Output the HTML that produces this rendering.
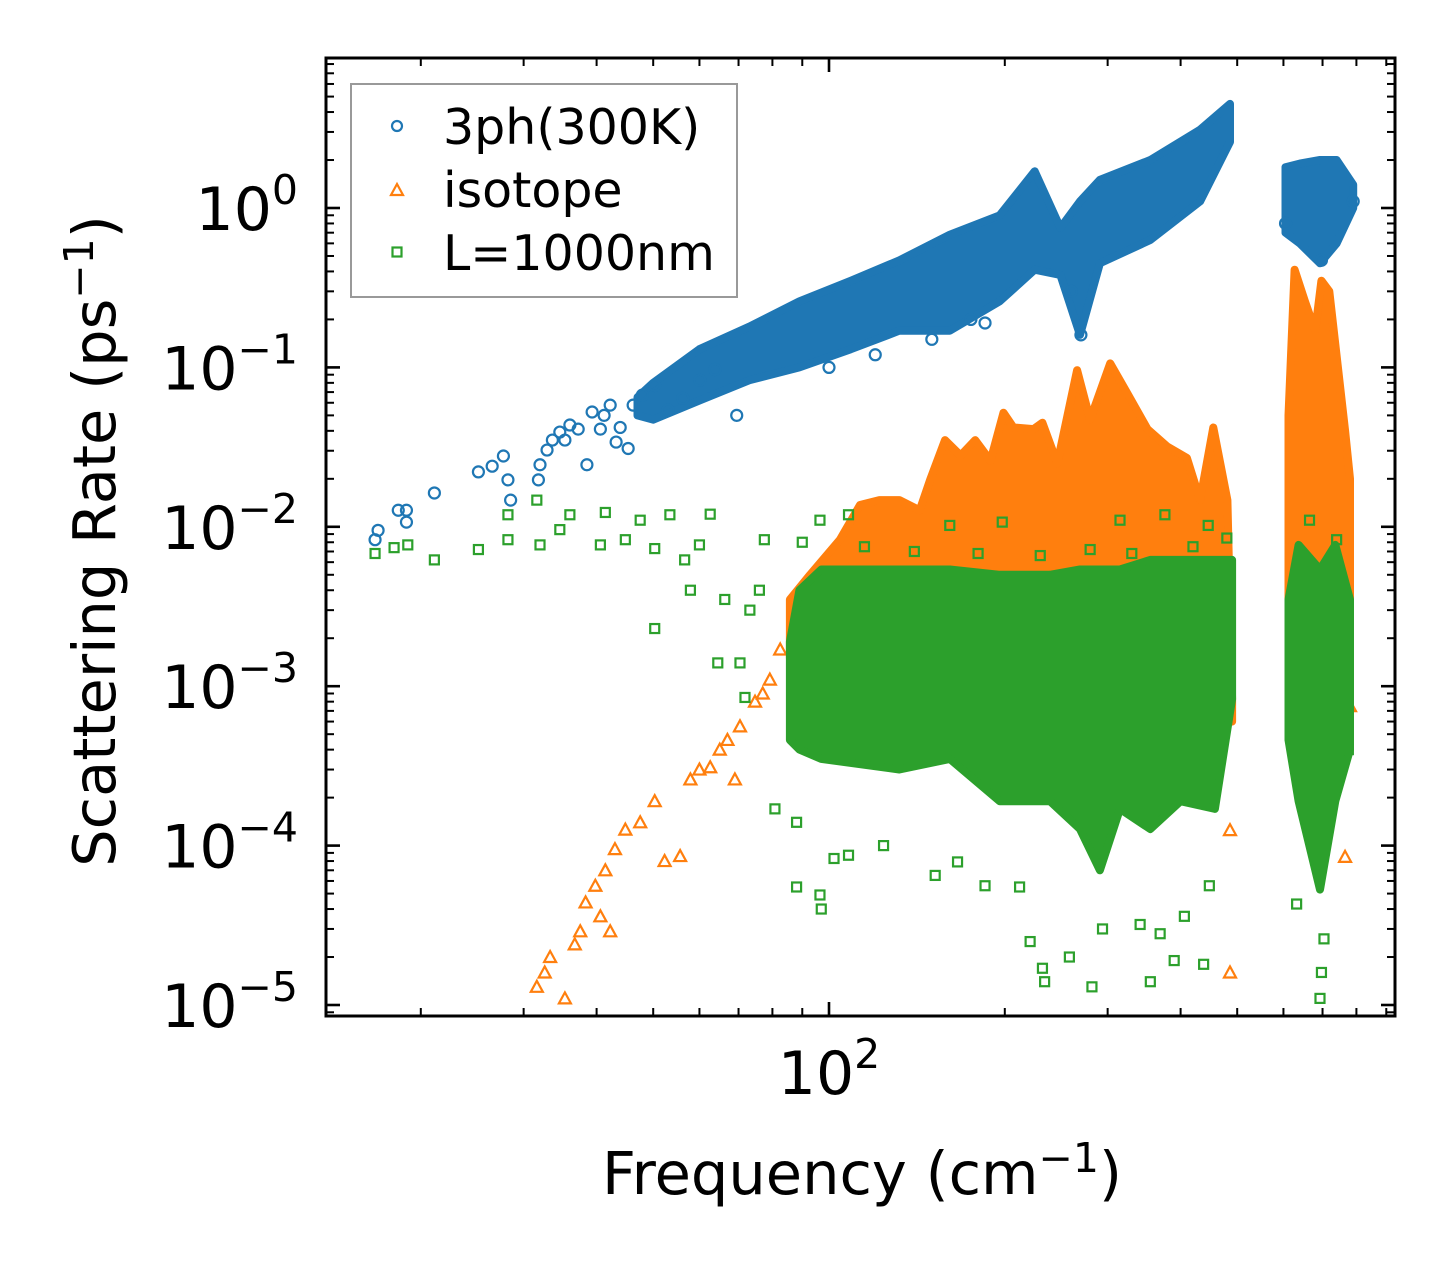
<!DOCTYPE html>
<html><head><meta charset="utf-8"><style>
html,body{margin:0;padding:0;background:#fff;}
svg{display:block;font-family:"DejaVu Sans","Liberation Sans",sans-serif;}
</style></head><body>
<svg id="chart" width="1455" height="1265" viewBox="0 0 1455 1265" xmlns="http://www.w3.org/2000/svg">
<rect width="1455" height="1265" fill="#fff"/>
<g id="plot"></g>
<g id="axes"></g>
<g id="legend">
 <rect x="351" y="84" width="386" height="213" fill="#fff" stroke="#999" stroke-width="2"/>
 <circle cx="397" cy="126" r="5" fill="none" stroke="#1f77b4" stroke-width="2.2"/>
 <text x="443" y="144" font-size="49" fill="#000">3ph(300K)</text>
 <polygon points="397,184 403,195 391,195" fill="none" stroke="#ff7f0e" stroke-width="2.2"/>
 <text x="443" y="207" font-size="49" fill="#000">isotope</text>
 <rect x="392.5" y="247.5" width="9" height="9" fill="none" stroke="#2ca02c" stroke-width="2.2"/>
 <text x="443" y="270" font-size="49" fill="#000">L=1000nm</text>
</g>
<text x="862" y="1194" font-size="59" text-anchor="middle">Frequency (cm<tspan font-size="41" dy="-22">−1</tspan><tspan dy="22">)</tspan></text>
<text transform="translate(115,541) rotate(-90)" font-size="59" text-anchor="middle">Scattering Rate (ps<tspan font-size="41" dy="-22">−1</tspan><tspan dy="22">)</tspan></text>
</svg>
<script>
// ---- data ----
const blueBandFreq=[47,50,60,73,89,109,132,161,196,225,249,269,291,355,432,486];
const blueBandHi=[0.065,0.08,0.13,0.18,0.26,0.35,0.47,0.68,0.9,1.7,0.75,1.1,1.5,2.0,3.1,4.5];
const blueBandLo=[0.05,0.047,0.062,0.083,0.1,0.13,0.17,0.17,0.26,0.41,0.38,0.16,0.45,0.63,1.1,2.6];
const blueBand2Freq=[605,640,693,740,790];
const blueBand2Hi=[1.8,1.9,2.0,2.0,1.4];
const blueBand2Lo=[0.7,0.6,0.45,0.6,1.0];
const blueSparse=[[16.7,.0083],[16.9,.0095],[18.3,.0127],[18.9,.0107],[18.9,.0127],[21.1,.0163],[25.1,.0221],[26.5,.024],[27.7,.0278],[28.2,.0197],[28.5,.0147],[31.8,.0197],[32,.0245],[32.9,.0303],[33.6,.035],[34.6,.0393],[35.3,.035],[36,.0435],[37.2,.041],[38.5,.0245],[39.3,.0525],[40.6,.041],[41.2,.05],[42.2,.058],[43.2,.034],[43.9,.042],[45.3,.031],[46.2,.058],[47.9,.067],[50.3,.077],[53,.054],[56.2,.064],[60.1,.083],[63.8,.097],[69.5,.05],[100,.1],[120,.12],[150,.15],[175,.2],[185,.19],[260,.3],[270,.16],[605,.8],[697,.47],[790,1.1]];

const orangeBandFreq=[85.7,92.8,104.4,113,122,132,143,149,158,168,178,189,199,207,224,232,246,266,280,303,324,351,379,410,432,455,481,490];
const orangeBandHi=[.0035,.005,.0083,.0137,.0147,.0147,.0127,.0197,.035,.028,.035,.026,.052,.042,.041,.045,.025,.096,.047,.106,.069,.041,.032,.027,.0147,.042,.0147,.00083];
const orangeBandLo=[.0015,.002,.002,.002,.002,.002,.002,.002,.002,.002,.002,.002,.002,.002,.002,.002,.002,.002,.002,.002,.002,.002,.002,.002,.002,.002,.002,.0006];
const orangeBand2Freq=[612,627,653,680,697,719,765,780];
const orangeBand2Hi=[.05,.41,.26,.17,.35,.3,.04,.02];
const orangeBand2Lo=[.003,.003,.003,.003,.003,.003,.003,.003];
const orangeSparse=[[31.6,1.3e-5],[32.6,1.6e-5],[33.3,2e-5],[35.3,1.1e-5],[36.7,2.4e-5],[37.5,2.9e-5],[38.3,4.4e-5],[39.8,5.6e-5],[40.6,3.6e-5],[41.4,7e-5],[42.2,2.9e-5],[43,9.5e-5],[44.8,1.26e-4],[47.5,1.4e-4],[50.3,1.9e-4],[52.3,8e-5],[55.6,8.6e-5],[57.9,2.6e-4],[60,3e-4],[62.6,3.1e-4],[65,4e-4],[67,4.6e-4],[69,2.6e-4],[70.4,5.6e-4],[74.7,8e-4],[77,9e-4],[79.2,1.1e-3],[82.5,1.7e-3],[486,1.25e-4],[486,1.6e-5],[765,8.5e-5],[780,7.5e-4]];

const greenBandFreq=[85.7,89,97,132,161,196,239,269,291,315,355,400,458,490];
const greenBandHi=[.0019,.004,.0054,.0054,.0054,.005,.005,.0054,.0054,.0054,.0062,.0062,.0062,.0062];
const greenBandLo=[4.6e-4,4e-4,3.5e-4,3e-4,3.5e-4,1.9e-4,1.9e-4,1.27e-4,7e-5,1.7e-4,1.27e-4,1.9e-4,1.7e-4,8.3e-4];
const greenBand2Freq=[612,637,693,736,780];
const greenBand2Hi=[.0035,.0077,.0054,.0077,.0035];
const greenBand2Lo=[4.6e-4,1.9e-4,5.3e-5,1.9e-4,4e-4];
const greenSparse=[[16.7,.0068],[18,.0074],[19,.0077],[21.1,.0062],[25.1,.0072],[28.2,.0119],[28.2,.0083],[31.6,.0147],[32,.0077],[34.6,.0096],[36,.0119],[40.6,.0077],[41.4,.0123],[44.8,.0083],[47.5,.011],[50.3,.0023],[50.3,.0073],[53.4,.0119],[56.6,.0062],[57.9,.004],[60,.0077],[62.6,.012],[64.5,.0014],[66.3,.0035],[70.4,.0014],[71.8,8.5e-4],[73.2,.003],[76,.004],[77.5,.0083],[80.8,1.7e-4],[88,1.4e-4],[88,5.5e-5],[96.5,4.9e-5],[97,4e-5],[102,8.3e-5],[108,8.7e-5],[124,1e-4],[152,6.5e-5],[166,7.9e-5],[185,5.6e-5],[212,5.5e-5],[221,2.5e-5],[232,1.7e-5],[234,1.4e-5],[258,2e-5],[282,1.3e-5],[294,3e-5],[341,3.2e-5],[355,1.4e-5],[369,2.8e-5],[390,1.9e-5],[406,3.6e-5],[438,1.8e-5],[448,5.6e-5],[632,4.3e-5],[693,1.1e-5],[697,1.6e-5],[704,2.6e-5],[775,4e-4],[96.5,.011],[108,.0119],[161,.0102],[198,.0107],[315,.011],[376,.0119],[446,.0102],[665,.011],[740,.0083],[90,.008],[115,.0075],[140,.007],[180,.0068],[230,.0066],[280,.0072],[330,.0068],[420,.0075],[480,.0085]];

const yTickExps=[0,-1,-2,-3,-4,-5];
const yTickLabels=["0","−1","−2","−3","−4","−5"];
const xMajorTicks=[100];
const xTickLabels=["2"];

// ---- scales ----
const L=326,R=1395,T=58,B=1016;
function X(f){return 829+584*Math.log10(f/100);}
function Y(r){return 208-159.4*Math.log10(r);}
const NS="http://www.w3.org/2000/svg";
const plot=document.getElementById('plot'), axes=document.getElementById('axes');
function mk(tag,attrs,parent){const e=document.createElementNS(NS,tag);for(const k in attrs)e.setAttribute(k,attrs[k]);parent.appendChild(e);return e;}

function band(fr,hi,lo,color,name){
  const pts=[];
  for(let i=0;i<fr.length;i++)pts.push(X(fr[i]).toFixed(1)+','+Y(hi[i]).toFixed(1));
  for(let i=fr.length-1;i>=0;i--)pts.push(X(fr[i]).toFixed(1)+','+Y(lo[i]).toFixed(1));
  const p=mk('polygon',{points:pts.join(' '),fill:color,stroke:color,'stroke-width':8,'stroke-linejoin':'round'},plot);
  
  
}
function marker(kind,f,r,color){
  const x=X(f),y=Y(r);let e;
  if(kind==='c')e=mk('circle',{cx:x,cy:y,r:5.5,fill:'none',stroke:color,'stroke-width':2.2},plot);
  else if(kind==='t')e=mk('polygon',{points:`${x},${y-6} ${x+6},${y+5} ${x-6},${y+5}`,fill:'none',stroke:color,'stroke-width':2.2},plot);
  else e=mk('rect',{x:x-4.5,y:y-4.5,width:9,height:9,fill:'none',stroke:color,'stroke-width':2.2},plot);
  
  
}
const CB='#1f77b4',CO='#ff7f0e',CG='#2ca02c';
band(blueBandFreq,blueBandHi,blueBandLo,CB,'3ph-dense-band');
band(blueBand2Freq,blueBand2Hi,blueBand2Lo,CB,'3ph-dense-band-high');
blueSparse.forEach(d=>marker('c',d[0],d[1],CB));
band(orangeBandFreq,orangeBandHi,orangeBandLo,CO,'isotope-dense-band');
band(orangeBand2Freq,orangeBand2Hi,orangeBand2Lo,CO,'isotope-dense-band-high');
orangeSparse.forEach(d=>marker('t',d[0],d[1],CO));
band(greenBandFreq,greenBandHi,greenBandLo,CG,'boundary-dense-band');
band(greenBand2Freq,greenBand2Hi,greenBand2Lo,CG,'boundary-dense-band-high');
greenSparse.forEach(d=>marker('s',d[0],d[1],CG));

// ---- axes ----
function tick(x1,y1,x2,y2,w){const t=mk('line',{x1,y1,x2,y2,stroke:'#000','stroke-width':w},axes);}
yTickExps.forEach((k,i)=>{
  const y=Y(Math.pow(10,k));
  tick(L,y,L+14,y,2.6);tick(R,y,R-14,y,2.6);
  const t=mk('text',{x:298,y:y+22,'font-size':60,'text-anchor':'end'},axes);
  
  
  t.innerHTML='10<tspan font-size="41" dy="-26">'+yTickLabels[i]+'</tspan>';
});
for(let k=-6;k<=0;k++)for(let m=2;m<=9;m++){
  const r=m*Math.pow(10,k);const y=Y(r);
  if(y<T+1||y>B-1)continue;
  tick(L,y,L+8,y,2);tick(R,y,R-8,y,2);
}
xMajorTicks.forEach((f,i)=>{
  const x=X(f);tick(x,B,x,B-14,2.6);tick(x,T,x,T+14,2.6);
  const t=mk('text',{x:x,y:1094,'font-size':60,'text-anchor':'middle'},axes);
  
  
  t.innerHTML='10<tspan font-size="41" dy="-26">'+xTickLabels[i]+'</tspan>';
});
for(let k=1;k<=2;k++)for(let m=1;m<=9;m++){
  if(m===1)continue;const f=m*Math.pow(10,k);const x=X(f);
  if(x<L+1||x>R-1)continue;
  tick(x,B,x,B-8,2);tick(x,T,x,T+8,2);
}
const fr=mk('rect',{x:L,y:T,width:R-L,height:B-T,fill:'none',stroke:'#000','stroke-width':3},axes);


</script>
</body></html>
